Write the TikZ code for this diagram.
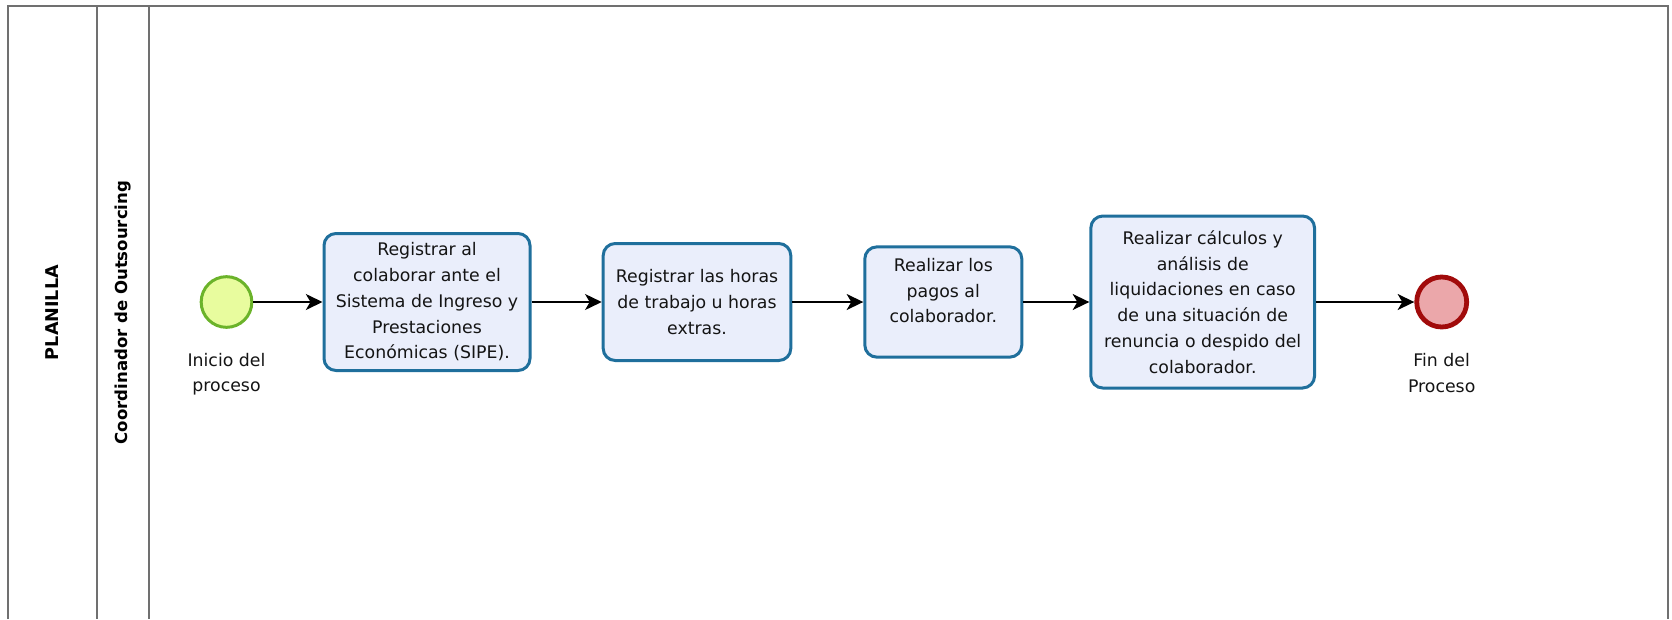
\documentclass[tikz,border=0pt]{standalone}
\usepackage{fontspec}
\setmainfont{DejaVu Sans}
\usetikzlibrary{arrows.meta,positioning}
\definecolor{taskfill}{HTML}{EAEEFB}
\definecolor{taskline}{HTML}{1F6F9C}
\definecolor{startfill}{HTML}{E8FC9E}
\definecolor{startline}{HTML}{6BB32A}
\definecolor{endfill}{HTML}{EBA7AA}
\definecolor{endline}{HTML}{A10B0B}
\definecolor{laneline}{HTML}{707070}
\tikzset{
  task/.style={draw=taskline, fill=taskfill, line width=2.25pt, rounded corners=9pt,
    align=center, inner sep=0pt, text=black!92, font=\fontsize{13}{19.3}\selectfont},
  startev/.style={circle, draw=startline, fill=startfill, line width=2.25pt, minimum size=38pt, inner sep=0pt},
  endev/.style={circle, draw=endline, fill=endfill, line width=3.6pt, minimum size=37.5pt, inner sep=0pt},
  evlabel/.style={align=center, inner sep=0pt, text=black!92, font=\fontsize{13}{19}\selectfont},
  lanetitle/.style={rotate=90, inner sep=0pt, font=\bfseries},
  lane/.style={draw=laneline, line width=1.1pt},
  flow/.style={-{Stealth[length=12.5pt,width=12pt,inset=3.5pt]}, line width=1.3pt}
}
\begin{document}
\begin{tikzpicture}[x=0.75pt,y=-0.75pt]
  \useasboundingbox (0,0) rectangle (1672,619);
  % pool and lane
  \draw[lane] (8,619) |- (1668,6) -- (1668,619);
  \draw[lane] (97,6) -- (97,619);
  \draw[lane] (149,6) -- (149,619);
  \node[lanetitle, font=\bfseries\fontsize{13.2}{15}\selectfont] (pool) at (52.5,312.5) {PLANILLA};
  \node[lanetitle, font=\bfseries\fontsize{12.4}{15}\selectfont] (lane1) at (123,312.5) {Coordinador de Outsourcing};
  % events and tasks
  \node[startev] (start) at (226.5,302) {};
  \node[evlabel, below=18pt of start] (startlbl) {Inicio del\\proceso};
  \node[task, minimum width=154.5pt, minimum height=102.75pt] (t1) at (427,302)
    {Registrar al\\colaborar ante el\\Sistema de Ingreso y\\Prestaciones\\Económicas (SIPE).};
  \node[task, minimum width=140.7pt, minimum height=87.75pt] (t2) at (697,302)
    {Registrar las horas\\de trabajo u horas\\extras.};
  \node[task, minimum width=117.75pt, minimum height=82.7pt, text depth=17pt] (t3) at (943.3,302)
    {Realizar los\\pagos al\\colaborador.};
  \node[task, minimum width=167.8pt, minimum height=129pt] (t4) at (1202.7,302)
    {Realizar cálculos y\\análisis de\\liquidaciones en caso\\de una situación de\\renuncia o despido del\\colaborador.};
  \node[endev] (end) at (1441.7,302) {};
  \node[evlabel, below=18pt of end] (endlbl) {Fin del\\Proceso};
  % sequence flows
  \draw[flow] (start) -- (t1);
  \draw[flow] (t1) -- (t2);
  \draw[flow] (t2) -- (t3);
  \draw[flow] (t3) -- (t4);
  \draw[flow] (t4) -- (end);
\end{tikzpicture}
\end{document}
